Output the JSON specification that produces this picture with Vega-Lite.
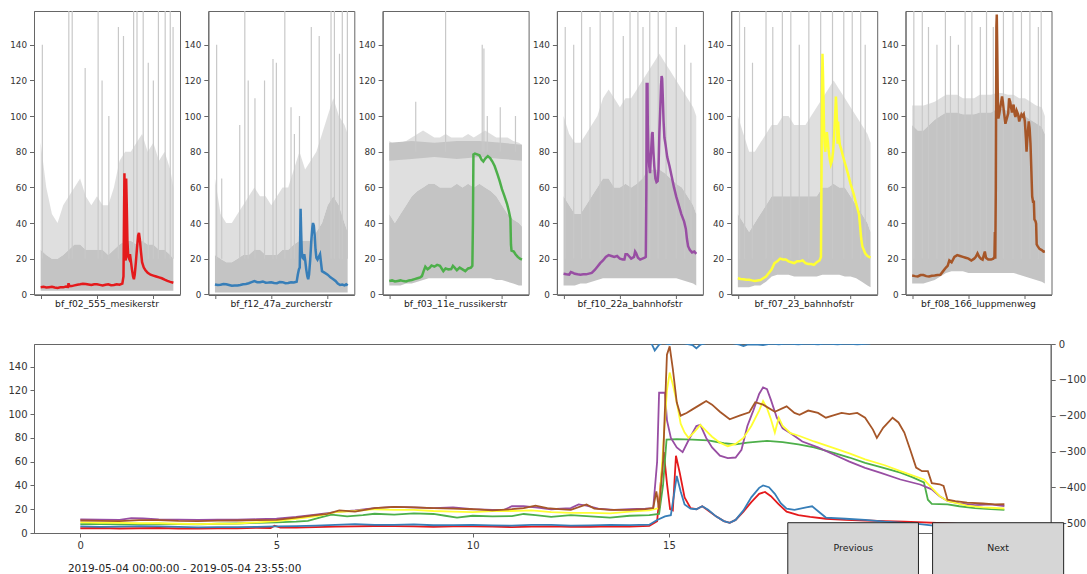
{
"$schema": "https://vega.github.io/schema/vega-lite/v6.json",
"background": "white",
"padding": {"left": 7, "top": 10, "right": 5, "bottom": 0},
"config": {
  "font": "DejaVu Sans",
  "view": {"stroke": "#666", "strokeWidth": 1},
  "axis": {"domainColor": "#666", "tickColor": "#666", "labelColor": "#333", "grid": false, "tickSize": 4.5, "labelPadding": 3, "domainWidth": 1, "tickWidth": 1, "labelFont": "DejaVu Sans", "titleFont": "DejaVu Sans", "labelOverlap": false},
  "header": {"labelFont": "DejaVu Sans"}
},
"datasets": {
  "stations": [
    {"id": 1, "s": "bf_f02_555_mesikerstr"},
    {"id": 2, "s": "bf_f12_47a_zurcherstr"},
    {"id": 3, "s": "bf_f03_11e_russikerstr"},
    {"id": 4, "s": "bf_f10_22a_bahnhofstr"},
    {"id": 5, "s": "bf_f07_23_bahnhofstr"},
    {"id": 6, "s": "bf_f08_166_luppmenweg"}
  ],
  "buttons": [
    {"label": "Previous", "x1": 18.03, "x2": 21.36, "y1": 8.65, "y2": -36, "xm": 19.7, "ym": -12.2},
    {"label": "Next", "x1": 21.72, "x2": 25.06, "y1": 8.65, "y2": -36, "xm": 23.39, "ym": -12.2}
  ],
  "rl": [
    {"t": 0, "r": 10}, {"t": 14.4, "r": 10}, {"t": 14.55, "r": 3}, {"t": 14.64, "r": -18}, {"t": 14.75, "r": -2}, {"t": 14.85, "r": 4}, {"t": 15.0, "r": -1}, {"t": 15.1, "r": 3}, {"t": 15.4, "r": 2}, {"t": 15.6, "r": -3}, {"t": 15.7, "r": -12}, {"t": 15.8, "r": -2}, {"t": 16.0, "r": 4}, {"t": 16.6, "r": 3}, {"t": 16.8, "r": -2}, {"t": 16.9, "r": -6}, {"t": 17.0, "r": -2}, {"t": 17.2, "r": -1}, {"t": 17.4, "r": -3}, {"t": 17.6, "r": 1}, {"t": 17.8, "r": -1}, {"t": 18.0, "r": 1}, {"t": 18.3, "r": -1}, {"t": 18.5, "r": 1}, {"t": 18.8, "r": -1}, {"t": 19.0, "r": 1}, {"t": 19.3, "r": -1}, {"t": 19.5, "r": 1}, {"t": 19.8, "r": -1}, {"t": 20.1, "r": 1}, {"t": 20.4, "r": 10}, {"t": 23.55, "r": 10}
  ],
  "main": [
    {"id":1,"k":"b","t":0,"a":2,"b":25,"c":85},{"id":1,"k":"b","t":1,"a":2,"b":22,"c":60},{"id":1,"k":"b","t":2,"a":2,"b":20,"c":45},{"id":1,"k":"b","t":3,"a":2,"b":20,"c":40},{"id":1,"k":"b","t":4,"a":2,"b":22,"c":50},{"id":1,"k":"b","t":5,"a":2,"b":25,"c":55},{"id":1,"k":"b","t":6,"a":2,"b":28,"c":60},{"id":1,"k":"b","t":7,"a":2,"b":28,"c":65},{"id":1,"k":"b","t":8,"a":2,"b":25,"c":55},{"id":1,"k":"b","t":9,"a":2,"b":25,"c":50},{"id":1,"k":"b","t":10,"a":2,"b":25,"c":55},{"id":1,"k":"b","t":11,"a":2,"b":25,"c":50},{"id":1,"k":"b","t":12,"a":2,"b":22,"c":50},{"id":1,"k":"b","t":13,"a":2,"b":25,"c":60},{"id":1,"k":"b","t":14,"a":2,"b":28,"c":75},{"id":1,"k":"b","t":15,"a":2,"b":30,"c":80},{"id":1,"k":"b","t":16,"a":2,"b":30,"c":80},{"id":1,"k":"b","t":17,"a":2,"b":28,"c":85},{"id":1,"k":"b","t":18,"a":2,"b":30,"c":90},{"id":1,"k":"b","t":19,"a":2,"b":28,"c":80},{"id":1,"k":"b","t":20,"a":2,"b":28,"c":85},{"id":1,"k":"b","t":21,"a":2,"b":25,"c":75},{"id":1,"k":"b","t":22,"a":2,"b":25,"c":80},{"id":1,"k":"b","t":23,"a":2,"b":22,"c":70},{"id":1,"k":"b","t":23.55,"a":2,"b":20,"c":60},
    {"id":2,"k":"b","t":0,"a":1,"b":22,"c":65},{"id":2,"k":"b","t":1,"a":1,"b":20,"c":45},{"id":2,"k":"b","t":2,"a":1,"b":18,"c":40},{"id":2,"k":"b","t":3,"a":1,"b":18,"c":40},{"id":2,"k":"b","t":4,"a":1,"b":20,"c":45},{"id":2,"k":"b","t":5,"a":1,"b":22,"c":50},{"id":2,"k":"b","t":6,"a":1,"b":22,"c":55},{"id":2,"k":"b","t":7,"a":1,"b":25,"c":60},{"id":2,"k":"b","t":8,"a":1,"b":25,"c":55},{"id":2,"k":"b","t":9,"a":1,"b":22,"c":55},{"id":2,"k":"b","t":10,"a":1,"b":22,"c":50},{"id":2,"k":"b","t":11,"a":1,"b":22,"c":55},{"id":2,"k":"b","t":12,"a":1,"b":25,"c":60},{"id":2,"k":"b","t":13,"a":1,"b":25,"c":60},{"id":2,"k":"b","t":14,"a":1,"b":28,"c":70},{"id":2,"k":"b","t":15,"a":1,"b":30,"c":80},{"id":2,"k":"b","t":16,"a":1,"b":30,"c":70},{"id":2,"k":"b","t":17,"a":1,"b":30,"c":75},{"id":2,"k":"b","t":18,"a":1,"b":35,"c":80},{"id":2,"k":"b","t":19,"a":1,"b":40,"c":90},{"id":2,"k":"b","t":20,"a":1,"b":50,"c":100},{"id":2,"k":"b","t":21,"a":1,"b":55,"c":110},{"id":2,"k":"b","t":22,"a":1,"b":50,"c":100},{"id":2,"k":"b","t":23,"a":1,"b":40,"c":95},{"id":2,"k":"b","t":23.55,"a":1,"b":35,"c":90},
    {"id":3,"k":"b","t":0,"a":5,"b":45,"c":86},{"id":3,"k":"b","t":1,"a":5,"b":40,"c":84},{"id":3,"k":"b","t":2,"a":5,"b":45,"c":85},{"id":3,"k":"b","t":3,"a":6,"b":50,"c":86},{"id":3,"k":"b","t":4,"a":6,"b":55,"c":88},{"id":3,"k":"b","t":5,"a":7,"b":58,"c":90},{"id":3,"k":"b","t":6,"a":8,"b":60,"c":92},{"id":3,"k":"b","t":7,"a":9,"b":62,"c":90},{"id":3,"k":"b","t":8,"a":9,"b":62,"c":88},{"id":3,"k":"b","t":9,"a":9,"b":60,"c":88},{"id":3,"k":"b","t":10,"a":9,"b":60,"c":90},{"id":3,"k":"b","t":11,"a":9,"b":60,"c":88},{"id":3,"k":"b","t":12,"a":9,"b":62,"c":88},{"id":3,"k":"b","t":13,"a":9,"b":60,"c":88},{"id":3,"k":"b","t":14,"a":9,"b":62,"c":90},{"id":3,"k":"b","t":15,"a":9,"b":60,"c":88},{"id":3,"k":"b","t":16,"a":9,"b":62,"c":90},{"id":3,"k":"b","t":17,"a":9,"b":60,"c":92},{"id":3,"k":"b","t":18,"a":9,"b":58,"c":90},{"id":3,"k":"b","t":19,"a":8,"b":55,"c":88},{"id":3,"k":"b","t":20,"a":8,"b":50,"c":88},{"id":3,"k":"b","t":21,"a":7,"b":45,"c":88},{"id":3,"k":"b","t":22,"a":6,"b":42,"c":86},{"id":3,"k":"b","t":23,"a":5,"b":40,"c":85},{"id":3,"k":"b","t":23.55,"a":5,"b":38,"c":84},
    {"id":4,"k":"b","t":0,"a":5,"b":55,"c":100},{"id":4,"k":"b","t":1,"a":5,"b":50,"c":90},{"id":4,"k":"b","t":2,"a":5,"b":45,"c":85},{"id":4,"k":"b","t":3,"a":6,"b":45,"c":85},{"id":4,"k":"b","t":4,"a":6,"b":50,"c":90},{"id":4,"k":"b","t":5,"a":7,"b":55,"c":95},{"id":4,"k":"b","t":6,"a":8,"b":60,"c":100},{"id":4,"k":"b","t":7,"a":9,"b":65,"c":110},{"id":4,"k":"b","t":8,"a":9,"b":65,"c":115},{"id":4,"k":"b","t":9,"a":9,"b":60,"c":110},{"id":4,"k":"b","t":10,"a":9,"b":60,"c":105},{"id":4,"k":"b","t":11,"a":9,"b":62,"c":110},{"id":4,"k":"b","t":12,"a":9,"b":60,"c":110},{"id":4,"k":"b","t":13,"a":9,"b":62,"c":115},{"id":4,"k":"b","t":14,"a":9,"b":65,"c":120},{"id":4,"k":"b","t":15,"a":9,"b":70,"c":125},{"id":4,"k":"b","t":16,"a":9,"b":70,"c":130},{"id":4,"k":"b","t":17,"a":9,"b":70,"c":135},{"id":4,"k":"b","t":18,"a":9,"b":68,"c":130},{"id":4,"k":"b","t":19,"a":9,"b":65,"c":125},{"id":4,"k":"b","t":20,"a":9,"b":62,"c":120},{"id":4,"k":"b","t":21,"a":8,"b":60,"c":115},{"id":4,"k":"b","t":22,"a":7,"b":55,"c":110},{"id":4,"k":"b","t":23,"a":6,"b":50,"c":105},{"id":4,"k":"b","t":23.55,"a":5,"b":45,"c":100},
    {"id":5,"k":"b","t":0,"a":4,"b":45,"c":100},{"id":5,"k":"b","t":1,"a":4,"b":40,"c":90},{"id":5,"k":"b","t":2,"a":4,"b":35,"c":80},{"id":5,"k":"b","t":3,"a":5,"b":40,"c":80},{"id":5,"k":"b","t":4,"a":5,"b":45,"c":85},{"id":5,"k":"b","t":5,"a":7,"b":50,"c":90},{"id":5,"k":"b","t":6,"a":10,"b":55,"c":95},{"id":5,"k":"b","t":7,"a":11,"b":55,"c":95},{"id":5,"k":"b","t":8,"a":11,"b":55,"c":100},{"id":5,"k":"b","t":9,"a":11,"b":55,"c":100},{"id":5,"k":"b","t":10,"a":10,"b":55,"c":95},{"id":5,"k":"b","t":11,"a":10,"b":55,"c":95},{"id":5,"k":"b","t":12,"a":10,"b":55,"c":95},{"id":5,"k":"b","t":13,"a":10,"b":55,"c":100},{"id":5,"k":"b","t":14,"a":10,"b":55,"c":105},{"id":5,"k":"b","t":15,"a":11,"b":60,"c":110},{"id":5,"k":"b","t":16,"a":11,"b":60,"c":115},{"id":5,"k":"b","t":17,"a":11,"b":62,"c":120},{"id":5,"k":"b","t":18,"a":11,"b":60,"c":115},{"id":5,"k":"b","t":19,"a":10,"b":60,"c":110},{"id":5,"k":"b","t":20,"a":10,"b":55,"c":105},{"id":5,"k":"b","t":21,"a":9,"b":50,"c":100},{"id":5,"k":"b","t":22,"a":7,"b":45,"c":95},{"id":5,"k":"b","t":23,"a":5,"b":40,"c":90},{"id":5,"k":"b","t":23.55,"a":4,"b":35,"c":85},
    {"id":6,"k":"b","t":0,"a":6,"b":95,"c":106},{"id":6,"k":"b","t":1,"a":6,"b":92,"c":106},{"id":6,"k":"b","t":2,"a":6,"b":92,"c":106},{"id":6,"k":"b","t":3,"a":7,"b":95,"c":107},{"id":6,"k":"b","t":4,"a":8,"b":98,"c":108},{"id":6,"k":"b","t":5,"a":10,"b":100,"c":110},{"id":6,"k":"b","t":6,"a":12,"b":102,"c":112},{"id":6,"k":"b","t":7,"a":13,"b":102,"c":112},{"id":6,"k":"b","t":8,"a":13,"b":102,"c":112},{"id":6,"k":"b","t":9,"a":13,"b":101,"c":110},{"id":6,"k":"b","t":10,"a":12,"b":101,"c":110},{"id":6,"k":"b","t":11,"a":12,"b":101,"c":110},{"id":6,"k":"b","t":12,"a":12,"b":102,"c":112},{"id":6,"k":"b","t":13,"a":12,"b":102,"c":112},{"id":6,"k":"b","t":14,"a":12,"b":102,"c":112},{"id":6,"k":"b","t":15,"a":12,"b":104,"c":113},{"id":6,"k":"b","t":16,"a":12,"b":104,"c":113},{"id":6,"k":"b","t":17,"a":12,"b":103,"c":112},{"id":6,"k":"b","t":18,"a":12,"b":102,"c":112},{"id":6,"k":"b","t":19,"a":11,"b":101,"c":110},{"id":6,"k":"b","t":20,"a":10,"b":100,"c":110},{"id":6,"k":"b","t":21,"a":9,"b":98,"c":108},{"id":6,"k":"b","t":22,"a":8,"b":96,"c":106},{"id":6,"k":"b","t":23,"a":7,"b":94,"c":105},{"id":6,"k":"b","t":23.55,"a":6,"b":90,"c":100},
    {"id":3,"k":"p","t":0,"a":75,"b":85},{"id":3,"k":"p","t":4,"a":76,"b":86},{"id":3,"k":"p","t":8,"a":77,"b":85},{"id":3,"k":"p","t":12,"a":76,"b":86},{"id":3,"k":"p","t":16,"a":77,"b":86},{"id":3,"k":"p","t":20,"a":76,"b":85},{"id":3,"k":"p","t":23.55,"a":75,"b":84},
    {"id":1,"k":"s","t":0.3,"a":20,"c":140},{"id":1,"k":"s","t":5.0,"a":20,"c":159},{"id":1,"k":"s","t":5.6,"a":20,"c":159},{"id":1,"k":"s","t":7.9,"a":20,"c":127},{"id":1,"k":"s","t":10.2,"a":20,"c":159},{"id":1,"k":"s","t":10.9,"a":20,"c":120},{"id":1,"k":"s","t":12.1,"a":20,"c":100},{"id":1,"k":"s","t":13.8,"a":20,"c":150},{"id":1,"k":"s","t":14.7,"a":20,"c":145},{"id":1,"k":"s","t":16.5,"a":20,"c":159},{"id":1,"k":"s","t":17.1,"a":20,"c":159},{"id":1,"k":"s","t":18.2,"a":20,"c":159},{"id":1,"k":"s","t":19.1,"a":20,"c":130},{"id":1,"k":"s","t":20,"a":20,"c":120},{"id":1,"k":"s","t":20.9,"a":20,"c":159},{"id":1,"k":"s","t":22.1,"a":20,"c":159},{"id":1,"k":"s","t":23,"a":20,"c":159},{"id":1,"k":"s","t":23.5,"a":20,"c":150},
    {"id":2,"k":"s","t":0.3,"a":20,"c":140},{"id":2,"k":"s","t":1.2,"a":20,"c":65},{"id":2,"k":"s","t":4.4,"a":20,"c":95},{"id":2,"k":"s","t":5.3,"a":20,"c":159},{"id":2,"k":"s","t":5.9,"a":20,"c":120},{"id":2,"k":"s","t":7.1,"a":20,"c":110},{"id":2,"k":"s","t":8.8,"a":20,"c":120},{"id":2,"k":"s","t":10.3,"a":20,"c":132},{"id":2,"k":"s","t":10.9,"a":20,"c":130},{"id":2,"k":"s","t":12.4,"a":20,"c":159},{"id":2,"k":"s","t":13.5,"a":20,"c":105},{"id":2,"k":"s","t":14.1,"a":20,"c":90},{"id":2,"k":"s","t":15,"a":20,"c":100},{"id":2,"k":"s","t":17.1,"a":20,"c":150},{"id":2,"k":"s","t":18.5,"a":20,"c":145},{"id":2,"k":"s","t":20.6,"a":20,"c":159},{"id":2,"k":"s","t":21.2,"a":20,"c":159},{"id":2,"k":"s","t":22.1,"a":20,"c":135},{"id":2,"k":"s","t":22.6,"a":20,"c":159},{"id":2,"k":"s","t":23.5,"a":20,"c":159},
    {"id":3,"k":"s","t":4.7,"a":80,"c":108},{"id":3,"k":"s","t":10.0,"a":80,"c":159},{"id":3,"k":"s","t":16.5,"a":80,"c":140},{"id":3,"k":"s","t":16.8,"a":80,"c":138},{"id":3,"k":"s","t":17.4,"a":80,"c":100},{"id":3,"k":"s","t":19.7,"a":80,"c":105},{"id":3,"k":"s","t":22.4,"a":80,"c":100},
    {"id":4,"k":"s","t":0.3,"a":20,"c":150},{"id":4,"k":"s","t":1.8,"a":20,"c":140},{"id":4,"k":"s","t":3.2,"a":20,"c":159},{"id":4,"k":"s","t":4.7,"a":20,"c":150},{"id":4,"k":"s","t":6.5,"a":20,"c":159},{"id":4,"k":"s","t":8.8,"a":20,"c":159},{"id":4,"k":"s","t":10.6,"a":20,"c":145},{"id":4,"k":"s","t":11.8,"a":20,"c":159},{"id":4,"k":"s","t":13.2,"a":20,"c":159},{"id":4,"k":"s","t":14.1,"a":20,"c":150},{"id":4,"k":"s","t":15.3,"a":20,"c":159},{"id":4,"k":"s","t":16.8,"a":20,"c":159},{"id":4,"k":"s","t":18.2,"a":20,"c":159},{"id":4,"k":"s","t":20,"a":20,"c":150},{"id":4,"k":"s","t":21.5,"a":20,"c":140},{"id":4,"k":"s","t":22.6,"a":20,"c":130},
    {"id":5,"k":"s","t":0.3,"a":20,"c":159},{"id":5,"k":"s","t":1.2,"a":20,"c":150},{"id":5,"k":"s","t":2.6,"a":20,"c":130},{"id":5,"k":"s","t":5,"a":20,"c":159},{"id":5,"k":"s","t":6.2,"a":20,"c":150},{"id":5,"k":"s","t":7.9,"a":20,"c":159},{"id":5,"k":"s","t":9.4,"a":20,"c":159},{"id":5,"k":"s","t":10.9,"a":20,"c":140},{"id":5,"k":"s","t":12.6,"a":20,"c":159},{"id":5,"k":"s","t":14.7,"a":20,"c":159},{"id":5,"k":"s","t":16.8,"a":20,"c":159},{"id":5,"k":"s","t":18.8,"a":20,"c":159},{"id":5,"k":"s","t":20.3,"a":20,"c":159},{"id":5,"k":"s","t":21.8,"a":20,"c":159},{"id":5,"k":"s","t":22.6,"a":20,"c":140},
    {"id":6,"k":"s","t":0.3,"a":20,"c":159},{"id":6,"k":"s","t":1.8,"a":20,"c":159},{"id":6,"k":"s","t":2.9,"a":20,"c":150},{"id":6,"k":"s","t":4.4,"a":20,"c":140},{"id":6,"k":"s","t":5.9,"a":20,"c":159},{"id":6,"k":"s","t":6.8,"a":20,"c":145},{"id":6,"k":"s","t":8.2,"a":20,"c":140},{"id":6,"k":"s","t":9.4,"a":20,"c":159},{"id":6,"k":"s","t":10.6,"a":20,"c":159},{"id":6,"k":"s","t":12.1,"a":20,"c":150},{"id":6,"k":"s","t":13.2,"a":20,"c":159},{"id":6,"k":"s","t":14.4,"a":20,"c":150},{"id":6,"k":"s","t":16.2,"a":20,"c":159},{"id":6,"k":"s","t":17.9,"a":20,"c":159},{"id":6,"k":"s","t":19.4,"a":20,"c":159},{"id":6,"k":"s","t":20.9,"a":20,"c":159},{"id":6,"k":"s","t":22.4,"a":20,"c":150},{"id":6,"k":"s","t":22.9,"a":20,"c":159},
    {"id":1,"k":"l","t":0,"v":4},{"id":1,"k":"l","t":0.5,"v":4.2},{"id":1,"k":"l","t":1,"v":3.8},{"id":1,"k":"l","t":1.5,"v":4},{"id":1,"k":"l","t":2,"v":4.2},{"id":1,"k":"l","t":2.5,"v":3.8},{"id":1,"k":"l","t":3,"v":3.6},{"id":1,"k":"l","t":3.5,"v":3.9},{"id":1,"k":"l","t":4,"v":3.9},{"id":1,"k":"l","t":4.5,"v":4.3},{"id":1,"k":"l","t":4.85,"v":4.2},{"id":1,"k":"l","t":4.95,"v":6.2},{"id":1,"k":"l","t":5.1,"v":4.5},{"id":1,"k":"l","t":5.5,"v":4.6},{"id":1,"k":"l","t":6,"v":5},{"id":1,"k":"l","t":6.5,"v":5.4},{"id":1,"k":"l","t":7,"v":5.6},{"id":1,"k":"l","t":7.5,"v":5.9},{"id":1,"k":"l","t":8,"v":5.8},{"id":1,"k":"l","t":8.5,"v":5.5},{"id":1,"k":"l","t":9,"v":5.2},{"id":1,"k":"l","t":9.5,"v":5.6},{"id":1,"k":"l","t":10,"v":5.6},{"id":1,"k":"l","t":10.5,"v":5.3},{"id":1,"k":"l","t":11,"v":5.0},{"id":1,"k":"l","t":11.5,"v":5.4},{"id":1,"k":"l","t":12,"v":5.6},{"id":1,"k":"l","t":12.5,"v":5.1},{"id":1,"k":"l","t":13,"v":5.2},{"id":1,"k":"l","t":13.5,"v":5.6},{"id":1,"k":"l","t":14,"v":5.4},{"id":1,"k":"l","t":14.5,"v":6},{"id":1,"k":"l","t":14.7,"v":10},{"id":1,"k":"l","t":14.8,"v":45},{"id":1,"k":"l","t":14.87,"v":68},{"id":1,"k":"l","t":14.95,"v":42},{"id":1,"k":"l","t":15.03,"v":20},{"id":1,"k":"l","t":15.1,"v":19},{"id":1,"k":"l","t":15.18,"v":65},{"id":1,"k":"l","t":15.28,"v":50},{"id":1,"k":"l","t":15.4,"v":30},{"id":1,"k":"l","t":15.55,"v":21},{"id":1,"k":"l","t":15.7,"v":20},{"id":1,"k":"l","t":15.85,"v":22.5},{"id":1,"k":"l","t":16.0,"v":19},{"id":1,"k":"l","t":16.2,"v":14},{"id":1,"k":"l","t":16.4,"v":10},{"id":1,"k":"l","t":16.55,"v":8.5},{"id":1,"k":"l","t":16.7,"v":11},{"id":1,"k":"l","t":16.9,"v":18},{"id":1,"k":"l","t":17.1,"v":26},{"id":1,"k":"l","t":17.3,"v":33},{"id":1,"k":"l","t":17.45,"v":34.5},{"id":1,"k":"l","t":17.6,"v":31},{"id":1,"k":"l","t":17.8,"v":24},{"id":1,"k":"l","t":18.0,"v":18},{"id":1,"k":"l","t":18.3,"v":15},{"id":1,"k":"l","t":18.6,"v":13.5},{"id":1,"k":"l","t":19,"v":12},{"id":1,"k":"l","t":19.5,"v":11},{"id":1,"k":"l","t":20,"v":10.5},{"id":1,"k":"l","t":20.5,"v":10},{"id":1,"k":"l","t":21,"v":9.5},{"id":1,"k":"l","t":21.5,"v":9},{"id":1,"k":"l","t":22,"v":8.2},{"id":1,"k":"l","t":22.5,"v":7.5},{"id":1,"k":"l","t":23,"v":7},{"id":1,"k":"l","t":23.55,"v":6.5},
    {"id":2,"k":"l","t":0,"v":5.5},{"id":2,"k":"l","t":0.5,"v":5.2},{"id":2,"k":"l","t":1,"v":5.4},{"id":2,"k":"l","t":1.5,"v":5.8},{"id":2,"k":"l","t":2,"v":5.6},{"id":2,"k":"l","t":2.5,"v":5.2},{"id":2,"k":"l","t":3,"v":4.8},{"id":2,"k":"l","t":3.5,"v":5},{"id":2,"k":"l","t":4,"v":5},{"id":2,"k":"l","t":4.5,"v":5.2},{"id":2,"k":"l","t":5,"v":5.6},{"id":2,"k":"l","t":5.5,"v":5.8},{"id":2,"k":"l","t":6,"v":6.2},{"id":2,"k":"l","t":6.5,"v":6.8},{"id":2,"k":"l","t":7,"v":7.4},{"id":2,"k":"l","t":7.5,"v":6.8},{"id":2,"k":"l","t":8,"v":6.8},{"id":2,"k":"l","t":8.5,"v":7.2},{"id":2,"k":"l","t":9,"v":6.5},{"id":2,"k":"l","t":9.5,"v":6.6},{"id":2,"k":"l","t":10,"v":6.8},{"id":2,"k":"l","t":10.5,"v":6.4},{"id":2,"k":"l","t":11,"v":6.2},{"id":2,"k":"l","t":11.5,"v":6.9},{"id":2,"k":"l","t":12,"v":6.8},{"id":2,"k":"l","t":12.5,"v":6.2},{"id":2,"k":"l","t":13,"v":6.4},{"id":2,"k":"l","t":13.5,"v":6.8},{"id":2,"k":"l","t":14,"v":6.6},{"id":2,"k":"l","t":14.5,"v":7},{"id":2,"k":"l","t":14.7,"v":11},{"id":2,"k":"l","t":14.9,"v":14},{"id":2,"k":"l","t":15.05,"v":15},{"id":2,"k":"l","t":15.12,"v":30},{"id":2,"k":"l","t":15.2,"v":48},{"id":2,"k":"l","t":15.3,"v":35},{"id":2,"k":"l","t":15.4,"v":24},{"id":2,"k":"l","t":15.55,"v":20.5},{"id":2,"k":"l","t":15.7,"v":20},{"id":2,"k":"l","t":15.85,"v":22.5},{"id":2,"k":"l","t":16.0,"v":19.5},{"id":2,"k":"l","t":16.2,"v":14},{"id":2,"k":"l","t":16.4,"v":10},{"id":2,"k":"l","t":16.55,"v":8.5},{"id":2,"k":"l","t":16.7,"v":11},{"id":2,"k":"l","t":16.9,"v":19},{"id":2,"k":"l","t":17.1,"v":30},{"id":2,"k":"l","t":17.3,"v":38},{"id":2,"k":"l","t":17.4,"v":40},{"id":2,"k":"l","t":17.55,"v":38.5},{"id":2,"k":"l","t":17.7,"v":33},{"id":2,"k":"l","t":17.85,"v":25},{"id":2,"k":"l","t":18.0,"v":20.5},{"id":2,"k":"l","t":18.2,"v":19.5},{"id":2,"k":"l","t":18.5,"v":21.5},{"id":2,"k":"l","t":18.65,"v":22.5},{"id":2,"k":"l","t":18.85,"v":17},{"id":2,"k":"l","t":19.0,"v":13},{"id":2,"k":"l","t":19.5,"v":12},{"id":2,"k":"l","t":20,"v":11},{"id":2,"k":"l","t":20.5,"v":9.5},{"id":2,"k":"l","t":21,"v":8.5},{"id":2,"k":"l","t":21.4,"v":7.5},{"id":2,"k":"l","t":21.8,"v":6},{"id":2,"k":"l","t":22.2,"v":5.2},{"id":2,"k":"l","t":22.6,"v":5.5},{"id":2,"k":"l","t":23,"v":5},{"id":2,"k":"l","t":23.3,"v":5.6},{"id":2,"k":"l","t":23.55,"v":5},
    {"id":3,"k":"l","t":0,"v":7.5},{"id":3,"k":"l","t":0.5,"v":7.8},{"id":3,"k":"l","t":1,"v":7.2},{"id":3,"k":"l","t":1.5,"v":7.5},{"id":3,"k":"l","t":2,"v":7.8},{"id":3,"k":"l","t":2.5,"v":7.4},{"id":3,"k":"l","t":3,"v":7.2},{"id":3,"k":"l","t":3.5,"v":7.8},{"id":3,"k":"l","t":4,"v":8},{"id":3,"k":"l","t":4.5,"v":8.5},{"id":3,"k":"l","t":5,"v":9},{"id":3,"k":"l","t":5.5,"v":9.5},{"id":3,"k":"l","t":5.8,"v":10.2},{"id":3,"k":"l","t":6.1,"v":13},{"id":3,"k":"l","t":6.4,"v":15.5},{"id":3,"k":"l","t":6.8,"v":14},{"id":3,"k":"l","t":7.2,"v":15},{"id":3,"k":"l","t":7.5,"v":16.2},{"id":3,"k":"l","t":8,"v":15.5},{"id":3,"k":"l","t":8.5,"v":16.5},{"id":3,"k":"l","t":9,"v":16},{"id":3,"k":"l","t":9.3,"v":14.5},{"id":3,"k":"l","t":9.6,"v":13},{"id":3,"k":"l","t":10,"v":14.5},{"id":3,"k":"l","t":10.5,"v":14},{"id":3,"k":"l","t":11,"v":14.2},{"id":3,"k":"l","t":11.3,"v":16},{"id":3,"k":"l","t":11.6,"v":15},{"id":3,"k":"l","t":12,"v":13.5},{"id":3,"k":"l","t":12.5,"v":15},{"id":3,"k":"l","t":13,"v":14},{"id":3,"k":"l","t":13.5,"v":13},{"id":3,"k":"l","t":14,"v":14.5},{"id":3,"k":"l","t":14.5,"v":15},{"id":3,"k":"l","t":14.75,"v":16},{"id":3,"k":"l","t":14.85,"v":40},{"id":3,"k":"l","t":14.94,"v":78.5},{"id":3,"k":"l","t":15.2,"v":79},{"id":3,"k":"l","t":15.6,"v":78.5},{"id":3,"k":"l","t":16,"v":78},{"id":3,"k":"l","t":16.4,"v":75.5},{"id":3,"k":"l","t":16.7,"v":74.5},{"id":3,"k":"l","t":17,"v":76},{"id":3,"k":"l","t":17.5,"v":77.5},{"id":3,"k":"l","t":17.9,"v":76.5},{"id":3,"k":"l","t":18.3,"v":74.5},{"id":3,"k":"l","t":18.7,"v":72},{"id":3,"k":"l","t":19.2,"v":67.5},{"id":3,"k":"l","t":19.6,"v":63.5},{"id":3,"k":"l","t":20,"v":59},{"id":3,"k":"l","t":20.4,"v":55.5},{"id":3,"k":"l","t":20.9,"v":50.8},{"id":3,"k":"l","t":21.2,"v":47},{"id":3,"k":"l","t":21.5,"v":42.5},{"id":3,"k":"l","t":21.6,"v":28},{"id":3,"k":"l","t":21.7,"v":24.5},{"id":3,"k":"l","t":22.1,"v":24},{"id":3,"k":"l","t":22.4,"v":22.5},{"id":3,"k":"l","t":22.8,"v":21},{"id":3,"k":"l","t":23.2,"v":20},{"id":3,"k":"l","t":23.55,"v":19.5},
    {"id":4,"k":"l","t":0,"v":11.5},{"id":4,"k":"l","t":0.5,"v":11.2},{"id":4,"k":"l","t":1,"v":11},{"id":4,"k":"l","t":1.3,"v":12.5},{"id":4,"k":"l","t":1.6,"v":12.2},{"id":4,"k":"l","t":2,"v":11.5},{"id":4,"k":"l","t":2.5,"v":11.2},{"id":4,"k":"l","t":3,"v":11},{"id":4,"k":"l","t":3.5,"v":11.2},{"id":4,"k":"l","t":4,"v":11.2},{"id":4,"k":"l","t":4.5,"v":11.6},{"id":4,"k":"l","t":5,"v":12},{"id":4,"k":"l","t":5.5,"v":13.5},{"id":4,"k":"l","t":6,"v":15.5},{"id":4,"k":"l","t":6.5,"v":17.5},{"id":4,"k":"l","t":7,"v":19},{"id":4,"k":"l","t":7.5,"v":21},{"id":4,"k":"l","t":8,"v":22},{"id":4,"k":"l","t":8.5,"v":21.5},{"id":4,"k":"l","t":9,"v":21},{"id":4,"k":"l","t":9.5,"v":21.5},{"id":4,"k":"l","t":10,"v":20},{"id":4,"k":"l","t":10.5,"v":19.5},{"id":4,"k":"l","t":10.8,"v":19.5},{"id":4,"k":"l","t":11,"v":22.5},{"id":4,"k":"l","t":11.3,"v":22.5},{"id":4,"k":"l","t":11.6,"v":21.5},{"id":4,"k":"l","t":12,"v":20},{"id":4,"k":"l","t":12.5,"v":21},{"id":4,"k":"l","t":12.7,"v":24},{"id":4,"k":"l","t":12.9,"v":23},{"id":4,"k":"l","t":13.2,"v":20.5},{"id":4,"k":"l","t":13.6,"v":19.5},{"id":4,"k":"l","t":14,"v":20},{"id":4,"k":"l","t":14.4,"v":20.5},{"id":4,"k":"l","t":14.6,"v":21},{"id":4,"k":"l","t":14.7,"v":60},{"id":4,"k":"l","t":14.75,"v":118},{"id":4,"k":"l","t":14.9,"v":118},{"id":4,"k":"l","t":14.95,"v":95},{"id":4,"k":"l","t":15.05,"v":80},{"id":4,"k":"l","t":15.2,"v":72},{"id":4,"k":"l","t":15.35,"v":68},{"id":4,"k":"l","t":15.5,"v":78},{"id":4,"k":"l","t":15.7,"v":90},{"id":4,"k":"l","t":15.8,"v":91},{"id":4,"k":"l","t":15.95,"v":80},{"id":4,"k":"l","t":16.1,"v":72},{"id":4,"k":"l","t":16.3,"v":65},{"id":4,"k":"l","t":16.5,"v":63},{"id":4,"k":"l","t":16.7,"v":63.5},{"id":4,"k":"l","t":16.85,"v":70},{"id":4,"k":"l","t":17.0,"v":90},{"id":4,"k":"l","t":17.15,"v":103},{"id":4,"k":"l","t":17.3,"v":117},{"id":4,"k":"l","t":17.4,"v":122.5},{"id":4,"k":"l","t":17.5,"v":121},{"id":4,"k":"l","t":17.6,"v":112},{"id":4,"k":"l","t":17.75,"v":97},{"id":4,"k":"l","t":17.9,"v":88},{"id":4,"k":"l","t":18.1,"v":84},{"id":4,"k":"l","t":18.4,"v":77},{"id":4,"k":"l","t":18.8,"v":72},{"id":4,"k":"l","t":19.2,"v":66},{"id":4,"k":"l","t":19.6,"v":60},{"id":4,"k":"l","t":20,"v":54.8},{"id":4,"k":"l","t":20.4,"v":50.5},{"id":4,"k":"l","t":20.9,"v":45},{"id":4,"k":"l","t":21.4,"v":40.8},{"id":4,"k":"l","t":21.7,"v":36.7},{"id":4,"k":"l","t":21.9,"v":31},{"id":4,"k":"l","t":22.1,"v":27},{"id":4,"k":"l","t":22.4,"v":25},{"id":4,"k":"l","t":22.8,"v":23.5},{"id":4,"k":"l","t":23.2,"v":24},{"id":4,"k":"l","t":23.55,"v":22.7},
    {"id":5,"k":"l","t":0,"v":9},{"id":5,"k":"l","t":0.5,"v":8.6},{"id":5,"k":"l","t":1,"v":8.5},{"id":5,"k":"l","t":1.5,"v":8.2},{"id":5,"k":"l","t":2,"v":8.2},{"id":5,"k":"l","t":2.5,"v":7.8},{"id":5,"k":"l","t":3,"v":7.5},{"id":5,"k":"l","t":3.5,"v":7.8},{"id":5,"k":"l","t":4,"v":8},{"id":5,"k":"l","t":4.5,"v":9},{"id":5,"k":"l","t":5,"v":10},{"id":5,"k":"l","t":5.5,"v":12},{"id":5,"k":"l","t":6,"v":14},{"id":5,"k":"l","t":6.5,"v":17.5},{"id":5,"k":"l","t":7,"v":18.5},{"id":5,"k":"l","t":7.5,"v":20},{"id":5,"k":"l","t":8,"v":19.5},{"id":5,"k":"l","t":8.5,"v":19.5},{"id":5,"k":"l","t":9,"v":18.5},{"id":5,"k":"l","t":9.5,"v":18},{"id":5,"k":"l","t":10,"v":17.5},{"id":5,"k":"l","t":10.5,"v":18.5},{"id":5,"k":"l","t":11,"v":18.5},{"id":5,"k":"l","t":11.5,"v":19},{"id":5,"k":"l","t":12,"v":17.5},{"id":5,"k":"l","t":12.5,"v":17},{"id":5,"k":"l","t":13,"v":17},{"id":5,"k":"l","t":13.5,"v":16.5},{"id":5,"k":"l","t":14,"v":18},{"id":5,"k":"l","t":14.5,"v":19},{"id":5,"k":"l","t":14.75,"v":21},{"id":5,"k":"l","t":14.85,"v":70},{"id":5,"k":"l","t":14.95,"v":120},{"id":5,"k":"l","t":15.02,"v":135},{"id":5,"k":"l","t":15.1,"v":125},{"id":5,"k":"l","t":15.2,"v":110},{"id":5,"k":"l","t":15.3,"v":92},{"id":5,"k":"l","t":15.4,"v":84.5},{"id":5,"k":"l","t":15.5,"v":80},{"id":5,"k":"l","t":15.65,"v":85},{"id":5,"k":"l","t":15.8,"v":91},{"id":5,"k":"l","t":15.95,"v":86},{"id":5,"k":"l","t":16.1,"v":81},{"id":5,"k":"l","t":16.3,"v":76},{"id":5,"k":"l","t":16.5,"v":73},{"id":5,"k":"l","t":16.7,"v":75},{"id":5,"k":"l","t":16.9,"v":80},{"id":5,"k":"l","t":17.1,"v":90},{"id":5,"k":"l","t":17.3,"v":103},{"id":5,"k":"l","t":17.4,"v":111},{"id":5,"k":"l","t":17.5,"v":105},{"id":5,"k":"l","t":17.6,"v":95.7},{"id":5,"k":"l","t":17.7,"v":84.5},{"id":5,"k":"l","t":17.8,"v":97},{"id":5,"k":"l","t":17.9,"v":90},{"id":5,"k":"l","t":18.1,"v":84},{"id":5,"k":"l","t":18.33,"v":81.6},{"id":5,"k":"l","t":18.7,"v":77},{"id":5,"k":"l","t":19.17,"v":71.8},{"id":5,"k":"l","t":19.6,"v":67},{"id":5,"k":"l","t":20,"v":62},{"id":5,"k":"l","t":20.5,"v":57},{"id":5,"k":"l","t":20.9,"v":52},{"id":5,"k":"l","t":21.5,"v":45},{"id":5,"k":"l","t":21.7,"v":38},{"id":5,"k":"l","t":21.9,"v":31},{"id":5,"k":"l","t":22.1,"v":26.9},{"id":5,"k":"l","t":22.6,"v":23},{"id":5,"k":"l","t":23,"v":21.5},{"id":5,"k":"l","t":23.55,"v":20.6},
    {"id":6,"k":"l","t":0,"v":10.5},{"id":6,"k":"l","t":0.5,"v":10.2},{"id":6,"k":"l","t":1,"v":10},{"id":6,"k":"l","t":1.5,"v":10.8},{"id":6,"k":"l","t":2,"v":10.8},{"id":6,"k":"l","t":2.5,"v":10.2},{"id":6,"k":"l","t":3,"v":10},{"id":6,"k":"l","t":3.5,"v":10.4},{"id":6,"k":"l","t":4,"v":10.5},{"id":6,"k":"l","t":4.5,"v":10.8},{"id":6,"k":"l","t":5,"v":11},{"id":6,"k":"l","t":5.5,"v":13},{"id":6,"k":"l","t":6,"v":15},{"id":6,"k":"l","t":6.3,"v":16},{"id":6,"k":"l","t":6.6,"v":19},{"id":6,"k":"l","t":7,"v":18},{"id":6,"k":"l","t":7.5,"v":21},{"id":6,"k":"l","t":8,"v":22},{"id":6,"k":"l","t":8.5,"v":21.5},{"id":6,"k":"l","t":9,"v":21},{"id":6,"k":"l","t":9.5,"v":20.5},{"id":6,"k":"l","t":10,"v":20},{"id":6,"k":"l","t":10.5,"v":19},{"id":6,"k":"l","t":11,"v":20},{"id":6,"k":"l","t":11.3,"v":21},{"id":6,"k":"l","t":11.6,"v":23},{"id":6,"k":"l","t":11.9,"v":21},{"id":6,"k":"l","t":12.2,"v":20},{"id":6,"k":"l","t":12.5,"v":19.5},{"id":6,"k":"l","t":12.9,"v":24},{"id":6,"k":"l","t":13.1,"v":20.5},{"id":6,"k":"l","t":13.5,"v":19.5},{"id":6,"k":"l","t":14,"v":19.5},{"id":6,"k":"l","t":14.4,"v":20},{"id":6,"k":"l","t":14.6,"v":21},{"id":6,"k":"l","t":14.68,"v":35},{"id":6,"k":"l","t":14.75,"v":20},{"id":6,"k":"l","t":14.85,"v":60},{"id":6,"k":"l","t":14.95,"v":150},{"id":6,"k":"l","t":15.02,"v":157},{"id":6,"k":"l","t":15.1,"v":138},{"id":6,"k":"l","t":15.2,"v":110},{"id":6,"k":"l","t":15.3,"v":98.7},{"id":6,"k":"l","t":15.45,"v":101},{"id":6,"k":"l","t":15.6,"v":104},{"id":6,"k":"l","t":15.8,"v":108},{"id":6,"k":"l","t":15.95,"v":111},{"id":6,"k":"l","t":16.1,"v":108},{"id":6,"k":"l","t":16.3,"v":102},{"id":6,"k":"l","t":16.55,"v":95.7},{"id":6,"k":"l","t":16.8,"v":98.7},{"id":6,"k":"l","t":17.05,"v":101.6},{"id":6,"k":"l","t":17.2,"v":110},{"id":6,"k":"l","t":17.4,"v":108},{"id":6,"k":"l","t":17.7,"v":102},{"id":6,"k":"l","t":18.0,"v":106.5},{"id":6,"k":"l","t":18.2,"v":101},{"id":6,"k":"l","t":18.33,"v":99.5},{"id":6,"k":"l","t":18.55,"v":103},{"id":6,"k":"l","t":18.8,"v":101},{"id":6,"k":"l","t":19.0,"v":97},{"id":6,"k":"l","t":19.17,"v":98.7},{"id":6,"k":"l","t":19.4,"v":101},{"id":6,"k":"l","t":19.6,"v":100},{"id":6,"k":"l","t":19.8,"v":101},{"id":6,"k":"l","t":20.0,"v":97},{"id":6,"k":"l","t":20.2,"v":87},{"id":6,"k":"l","t":20.3,"v":80},{"id":6,"k":"l","t":20.46,"v":88.5},{"id":6,"k":"l","t":20.7,"v":97},{"id":6,"k":"l","t":20.85,"v":93},{"id":6,"k":"l","t":21.0,"v":84.5},{"id":6,"k":"l","t":21.15,"v":70},{"id":6,"k":"l","t":21.3,"v":55},{"id":6,"k":"l","t":21.45,"v":52},{"id":6,"k":"l","t":21.6,"v":52},{"id":6,"k":"l","t":21.7,"v":42},{"id":6,"k":"l","t":21.9,"v":41},{"id":6,"k":"l","t":22.0,"v":39.6},{"id":6,"k":"l","t":22.1,"v":28},{"id":6,"k":"l","t":22.3,"v":26.9},{"id":6,"k":"l","t":22.6,"v":25.5},{"id":6,"k":"l","t":23,"v":24.8},{"id":6,"k":"l","t":23.3,"v":24},{"id":6,"k":"l","t":23.55,"v":24.2}
  ]
},
"vconcat": [
  {
    "data": {"name": "main"},
    "transform": [{"lookup": "id", "from": {"data": {"name": "stations"}, "key": "id", "fields": ["s"]}}],
    "facet": {"column": {"field": "s", "type": "nominal", "title": null,
      "sort": ["bf_f02_555_mesikerstr", "bf_f12_47a_zurcherstr", "bf_f03_11e_russikerstr", "bf_f10_22a_bahnhofstr", "bf_f07_23_bahnhofstr", "bf_f08_166_luppmenweg"],
      "header": {"labelOrient": "bottom", "labelFontSize": 9.2, "labelColor": "#222", "labelPadding": 1}}},
    "spacing": {"column": 28.3},
    "bounds": "flush",
    "resolve": {"axis": {"y": "independent"}},
    "spec": {
      "width": 146, "height": 283.3,
      "encoding": {
        "x": {"field": "t", "type": "quantitative", "scale": {"domain": [-1.18, 24.73], "nice": false, "zero": false},
              "axis": {"values": [0, 10, 20], "labels": false, "title": null, "tickSize": 3.5}}
      },
      "layer": [
        {"transform": [{"filter": "datum.k == 'b'"}], "mark": {"type": "area", "color": "#c4c4c4", "opacity": 0.55},
         "encoding": {"y": {"field": "b", "type": "quantitative", "scale": {"domain": [0, 159], "nice": false}, "title": null,
                            "axis": {"values": [0, 20, 40, 60, 80, 100, 120, 140], "labelFontSize": 8.8, "title": null}},
                      "y2": {"field": "c"}}},
        {"transform": [{"filter": "datum.k == 'b'"}], "mark": {"type": "area", "color": "#c4c4c4"},
         "encoding": {"y": {"field": "a", "type": "quantitative", "title": null}, "y2": {"field": "b"}}},
        {"transform": [{"filter": "datum.k == 'p'"}], "mark": {"type": "area", "color": "#c4c4c4"},
         "encoding": {"y": {"field": "a", "type": "quantitative", "title": null}, "y2": {"field": "b"}}},
        {"transform": [{"filter": "datum.k == 's'"}], "mark": {"type": "rule", "color": "#c8c8c8", "strokeWidth": 1.2, "clip": true},
         "encoding": {"y": {"field": "a", "type": "quantitative", "title": null}, "y2": {"field": "c"}}},
        {"transform": [{"filter": "datum.k == 'l'"}], "mark": {"type": "line", "strokeWidth": 2.5, "clip": true},
         "encoding": {"y": {"field": "v", "type": "quantitative", "title": null},
                      "color": {"field": "s", "type": "nominal", "legend": null,
                                "scale": {"domain": ["bf_f02_555_mesikerstr", "bf_f12_47a_zurcherstr", "bf_f03_11e_russikerstr", "bf_f10_22a_bahnhofstr", "bf_f07_23_bahnhofstr", "bf_f08_166_luppmenweg"],
                                          "range": ["#e41a1c", "#377eb8", "#4daf4a", "#984ea3", "#ffff33", "#a65628"]}}}}
      ]
    }
  },
  {
    "width": 1016.7, "height": 189,
    "layer": [
      {"data": {"name": "rl"}, "mark": {"type": "line", "color": "#377eb8", "strokeWidth": 1.8, "clip": true},
       "encoding": {
         "x": {"field": "t", "type": "quantitative", "scale": {"domain": [-1.18, 24.73], "nice": false, "zero": false},
               "axis": {"values": [0, 5, 10, 15], "labelFontSize": 10, "title": "2019-05-04 00:00:00 - 2019-05-04 23:55:00",
                        "titleAnchor": "start", "titleAlign": "left", "titleX": 33.4, "titleY": 38, "titleBaseline": "alphabetic",
                        "titleFontSize": 10.5, "titleFontWeight": "normal", "titleColor": "#222", "tickSize": 4}},
         "y": {"field": "r", "type": "quantitative", "scale": {"domain": [-527, 0], "nice": false, "zero": false},
               "axis": {"orient": "right", "values": [0, -100, -200, -300, -400, -500], "labelFontSize": 10, "title": null, "tickSize": 4.5}}
       }},
      {
        "layer": [
          {"data": {"name": "main"},
           "transform": [{"filter": "datum.k == 'l'"}, {"lookup": "id", "from": {"data": {"name": "stations"}, "key": "id", "fields": ["s"]}}],
           "mark": {"type": "line", "strokeWidth": 1.8, "clip": true},
           "encoding": {
             "x": {"field": "t", "type": "quantitative", "scale": {"domain": [-1.18, 24.73], "nice": false, "zero": false},
                   "axis": {"values": [0, 5, 10, 15], "labelFontSize": 10, "title": "2019-05-04 00:00:00 - 2019-05-04 23:55:00",
                            "titleAnchor": "start", "titleAlign": "left", "titleX": 33.4, "titleY": 38, "titleBaseline": "alphabetic",
                            "titleFontSize": 10.5, "titleFontWeight": "normal", "titleColor": "#222", "tickSize": 4}},
             "y": {"field": "v", "type": "quantitative", "scale": {"domain": [0, 159], "nice": false},
                   "axis": {"orient": "left", "values": [0, 20, 40, 60, 80, 100, 120, 140], "labelFontSize": 10, "title": null, "tickSize": 4}},
             "color": {"field": "s", "type": "nominal", "legend": null,
                       "scale": {"domain": ["bf_f02_555_mesikerstr", "bf_f12_47a_zurcherstr", "bf_f03_11e_russikerstr", "bf_f10_22a_bahnhofstr", "bf_f07_23_bahnhofstr", "bf_f08_166_luppmenweg"],
                                 "range": ["#e41a1c", "#377eb8", "#4daf4a", "#984ea3", "#ffff33", "#a65628"]}}
           }},
          {"data": {"name": "buttons"}, "mark": {"type": "rect", "fill": "#d6d6d6", "stroke": "#222", "strokeWidth": 1},
           "encoding": {
             "x": {"field": "x1", "type": "quantitative",
                   "axis": {"values": [0, 5, 10, 15], "labelFontSize": 10, "title": "2019-05-04 00:00:00 - 2019-05-04 23:55:00",
                            "titleAnchor": "start", "titleAlign": "left", "titleX": 33.4, "titleY": 38, "titleBaseline": "alphabetic",
                            "titleFontSize": 10.5, "titleFontWeight": "normal", "titleColor": "#222", "tickSize": 4}},
             "x2": {"field": "x2"},
             "y": {"field": "y1", "type": "quantitative",
                   "axis": {"orient": "left", "values": [0, 20, 40, 60, 80, 100, 120, 140], "labelFontSize": 10, "title": null, "tickSize": 4}},
             "y2": {"field": "y2"}
           }},
          {"data": {"name": "buttons"}, "mark": {"type": "text", "fontSize": 9.4, "color": "#222", "font": "DejaVu Sans"},
           "encoding": {
             "x": {"field": "xm", "type": "quantitative",
                   "axis": {"values": [0, 5, 10, 15], "labelFontSize": 10, "title": "2019-05-04 00:00:00 - 2019-05-04 23:55:00",
                            "titleAnchor": "start", "titleAlign": "left", "titleX": 33.4, "titleY": 38, "titleBaseline": "alphabetic",
                            "titleFontSize": 10.5, "titleFontWeight": "normal", "titleColor": "#222", "tickSize": 4}},
             "y": {"field": "ym", "type": "quantitative",
                   "axis": {"orient": "left", "values": [0, 20, 40, 60, 80, 100, 120, 140], "labelFontSize": 10, "title": null, "tickSize": 4}},
             "text": {"field": "label"}
           }}
        ]
      }
    ],
    "resolve": {"scale": {"y": "independent"}}
  }
],
"spacing": 28
}
